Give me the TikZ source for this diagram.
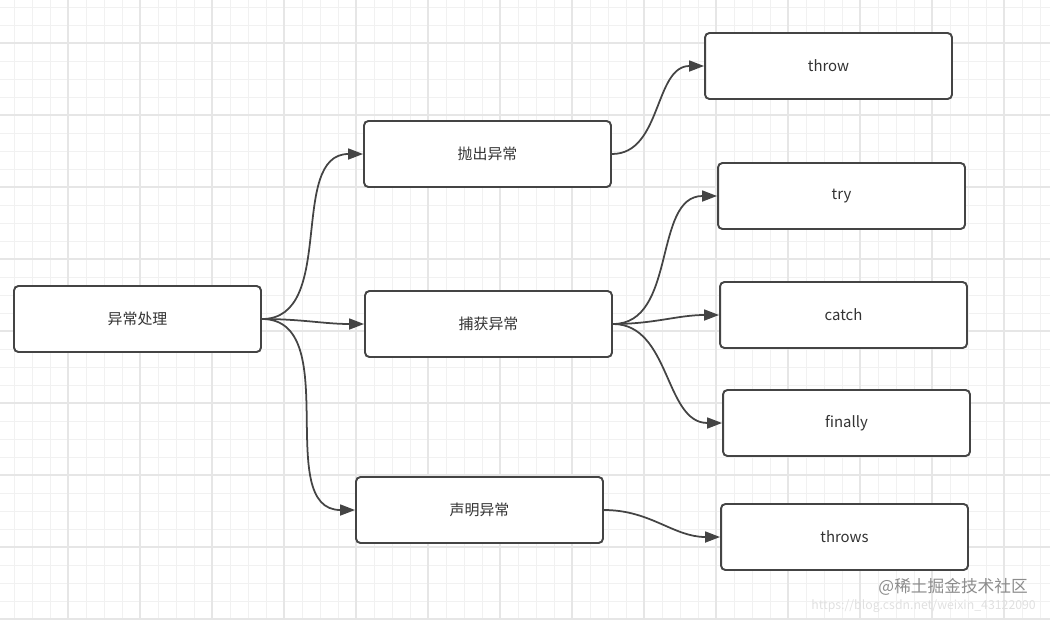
\documentclass[tikz,border=0pt]{standalone}
\usepackage{fontspec}
\setmainfont{Noto Sans CJK SC}
\usetikzlibrary{arrows.meta,positioning}
\definecolor{boxline}{HTML}{444444}
\definecolor{gridminor}{HTML}{F1F1F1}
\definecolor{gridmajor}{HTML}{E6E6E6}
\tikzset{basic/.style={draw=boxline,fill=white,line width=1.1pt,rounded corners=2.5pt,minimum width=4.94cm,minimum height=1.32cm,font=\fontsize{8.5}{10}\selectfont,text=black!80}}
\tikzset{topic/.style={basic}}
\tikzset{keyword/.style={basic}}
\tikzset{arrow/.style={draw=boxline,line width=1pt,-{Triangle[length=0.3cm,width=0.22cm]}}}
\tikzset{minorline/.style={draw=gridminor,line width=0.5pt}}
\tikzset{majorline/.style={draw=gridmajor,line width=0.6pt}}

\begin{document}
\begin{tikzpicture}[x=0.02cm,y=-0.02cm]
    \useasboundingbox (0,0) rectangle (1050,619);
    % background grid
    \foreach \gx in {14,32,...,1050} \path[minorline] (\gx,0) -- (\gx,619);
    \foreach \gy in {7,25,...,619} \path[minorline] (0,\gy) -- (1050,\gy);
    \foreach \gx in {68,140,...,1050} \path[majorline] (\gx,0) -- (\gx,619);
    \foreach \gy in {43,115,...,619} \path[majorline] (0,\gy) -- (1050,\gy);

    \node[topic] (handle) at (137.5,319) {异常处理};

    \node[topic] (throwex) at (487.5,154) {抛出异常};
    \node[topic] (catchex) at (488.5,324) {捕获异常};
    \node[topic] (declex) at (479.5,510) {声明异常};

    \node[keyword] (kthrow) at (828.5,66) {throw};
    \node[keyword] (ktry) at (841.5,196) {try};
    \node[keyword] (kcatch) at (843.5,315) {catch};
    \node[keyword] (kfinally) at (846.5,423) {finally};
    \node[keyword] (kthrows) at (844.5,537) {throws};

        \path[arrow] (handle.east) to[out=0,in=180] (throwex.west);
        \path[arrow] (handle.east) to[out=0,in=180] (catchex.west);
        \path[arrow] (handle.east) to[out=0,in=180] (declex.west);
        \path[arrow] (throwex.east) to[out=0,in=180] (kthrow.west);
        \path[arrow] (catchex.east) to[out=0,in=180] (ktry.west);
        \path[arrow] (catchex.east) to[out=0,in=180] (kcatch.west);
        \path[arrow] (catchex.east) to[out=0,in=180] (kfinally.west);
        \path[arrow] (declex.east) to[out=0,in=180] (kthrows.west);

    % watermark
    \node[font=\fontsize{7}{8}\selectfont,text=black!12,anchor=east] (csdn) at (1042,606) {https://blog.csdn.net/weixin\_43122090};
    \node[font=\fontsize{9.5}{11}\selectfont,text=black!45,anchor=east] (juejin) at (1034,587) {@稀土掘金技术社区};
  \end{tikzpicture}
\end{document}
